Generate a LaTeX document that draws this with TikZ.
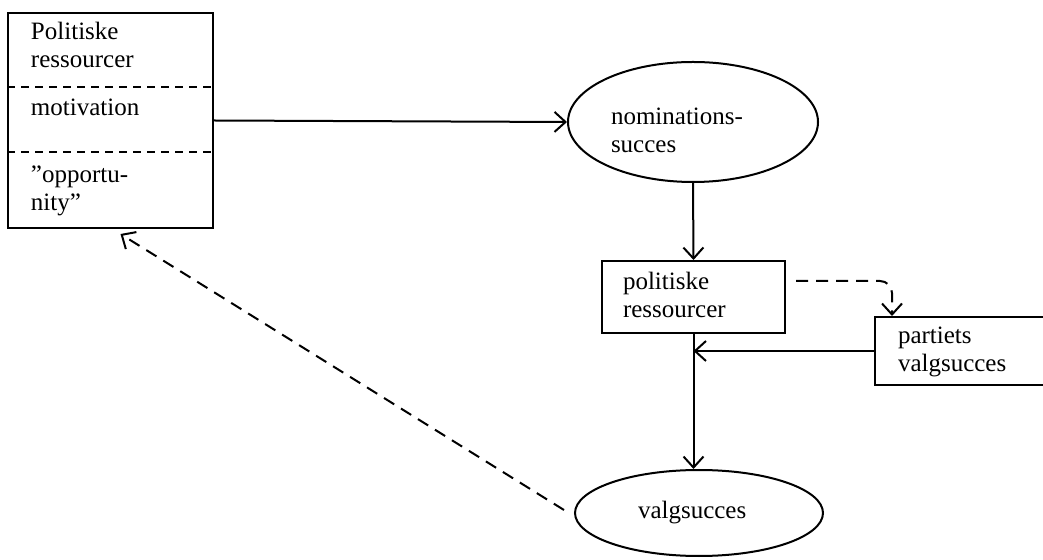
\documentclass[tikz,border=0pt]{standalone}
\usepackage{fontspec}
\setmainfont{Liberation Serif}
\usetikzlibrary{arrows.meta,positioning,shapes.geometric}

\begin{document}
\begin{tikzpicture}[x=0.5pt,y=-0.5pt,
  >={Straight Barb[length=5.5pt,width=10pt]},
  line width=1pt,
  tekst/.style={anchor=base west,inner sep=0pt,align=left,font=\fontsize{12.5}{14}\selectfont},
  kasse/.style={draw,rectangle,inner sep=0pt},
  oval/.style={draw,ellipse,inner sep=0pt},
  stiplet/.style={dash pattern=on 6pt off 4pt},
  skille/.style={dash pattern=on 4pt off 3pt,line width=0.7pt}]
  \useasboundingbox (0,0) rectangle (1043,560);
  \clip (0,0) rectangle (1043,560);

  %boxes
  \node[kasse,minimum width=102.5pt,minimum height=107.5pt] (kilde) at (110.5,120.5) {};
  \node[kasse,minimum width=91.5pt,minimum height=36pt] (pres) at (693.5,297) {};
  \node[kasse,minimum width=87pt,minimum height=34pt] (parti) at (962,351) {};
  %ellipses
  \node[oval,minimum width=125pt,minimum height=60pt] (nom) at (693,122) {};
  \node[oval,minimum width=124pt,minimum height=43pt] (valg) at (699,513) {};

  %dividers
  \coordinate (d1) at (0,87);
  \coordinate (d2) at (0,152);
  \draw[skille] (kilde.west |- d1) -- (kilde.east |- d1);
  \draw[skille] (kilde.west |- d2) -- (kilde.east |- d2);

  %texts (base = last line)
  \node[tekst] (t1) at (30,68) {Politiske\\ressourcer};
  \node[tekst] (t2) at (30,116) {motivation};
  \node[tekst] (t3) at (30,211) {''opportu-\\nity''};
  \node[tekst] (t4) at (610,153) {nominations-\\succes};
  \node[tekst] (t5) at (622,318) {politiske\\ressourcer};
  \node[tekst] (t6) at (897,372) {partiets\\valgsucces};
  \node[tekst] (t7) at (637,518) {valgsucces};

  %arrows
  \draw[->] (kilde.east) -- (nom.west);
  \draw[->] (nom.south) -- (pres.north);
  \draw[->] (pres.south) -- (pres.south |- valg.north);
  \draw[->] (parti.west) -- (pres.south |- parti.west);
  \draw[->,stiplet,rounded corners=6pt] ([xshift=5pt,yshift=8pt]pres.east) -| ([xshift=9pt]parti.north west);
  \draw[->,stiplet] ([xshift=-5pt,yshift=1.5pt]valg.west) -- ([xshift=5pt,yshift=-2.5pt]kilde.south);
\end{tikzpicture}
\end{document}
